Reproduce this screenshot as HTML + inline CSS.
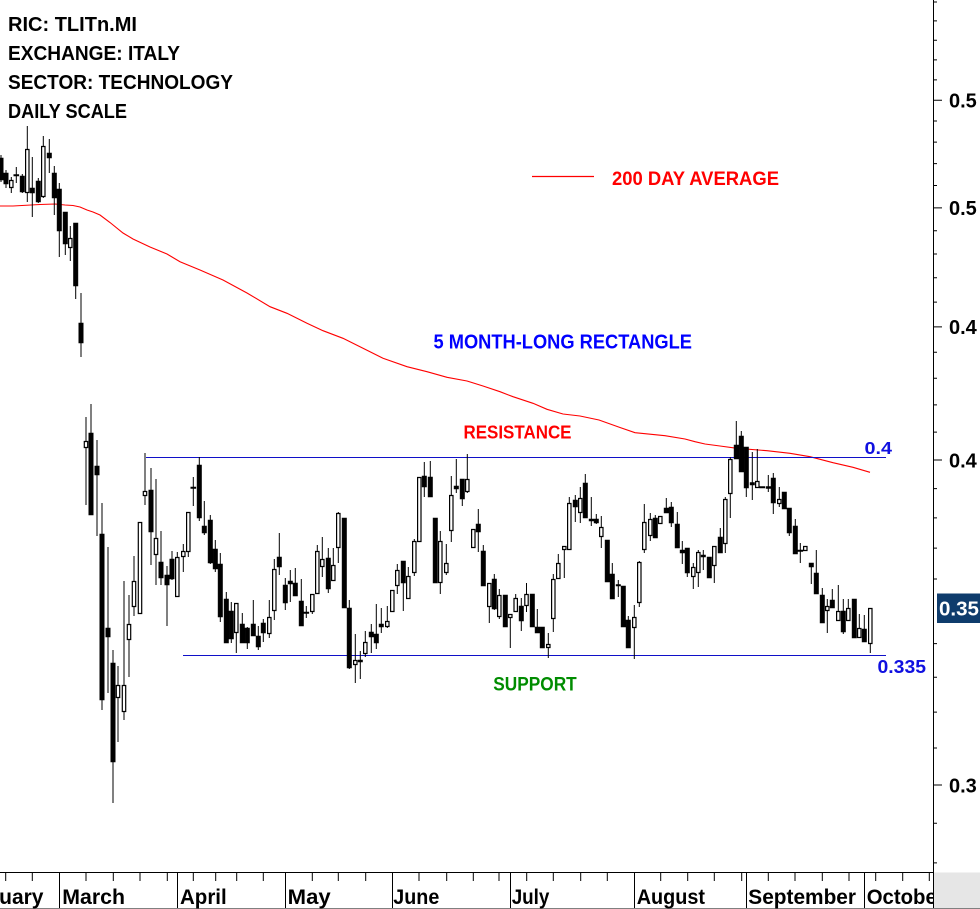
<!DOCTYPE html>
<html>
<head>
<meta charset="utf-8">
<style>
html,body{margin:0;padding:0;background:#fff;}
svg{display:block;}
text{font-family:"Liberation Sans",Arial,sans-serif;font-weight:bold;}
</style>
</head>
<body>
<svg width="980" height="909" viewBox="0 0 980 909" xmlns="http://www.w3.org/2000/svg">
<defs>
<clipPath id="plot"><rect x="0" y="0" width="933" height="872"/></clipPath>
<clipPath id="xl"><rect x="0" y="872" width="933" height="37"/></clipPath>
</defs>
<rect x="0" y="0" width="980" height="909" fill="#fff"/>

<g clip-path="url(#plot)">
<!-- 200 day average -->
<polyline fill="none" stroke="#ff0000" stroke-width="1.1" points="0,206 13,206 40,204.5 55,204 65,205 73,205.5 80,207 87,210 93,212 100,215 110,222.5 123,233 133,239 150,247 167,254 180,261.7 200,270 223,280 247,293 270,306.7 287,313.3 307,323.3 323,330.7 343,338.3 363,348.3 383,358.3 407,366.7 427,371.7 447,377.3 467,381 483,386 500,391.7 513,396.7 533,403.3 547,409.3 563,414 580,416 599,420 620,427.5 635,432.7 665,435.7 685,439 695,441.7 705,444 720,446 737,448.3 767,450.7 790,453.3 810,456.7 833,462.7 853,467.3 870,472.3"/>

<!-- resistance / support -->
<line x1="146" y1="457.5" x2="886" y2="457.5" stroke="#1010c8" stroke-width="1"/>
<line x1="183" y1="655.5" x2="886" y2="655.5" stroke="#1010c8" stroke-width="1"/>

<!-- wicks -->
<path fill="none" stroke="#000" stroke-width="1" d="M1 155V182M6 170V188M11.3 177V193M16.3 167V183M22.3 174V193M27.3 126V202M32.3 157V217M38.3 178V203M43.3 136V198M49.3 139V173M54.3 166V215M59.3 183V257M65.3 212V255M70.3 226V261M75.7 223V299M81 293V357M86 417V505M91 404V515M97 440V536M102 503V710M108 547V693M113 650V803M118 666V742M124 581V720M129 595V677M134 556V616M140 522V614M145 453V505M151 468V565M156 479V585M161 531V585M167 566V626M172 551V580M177.3 552V597M183.3 544V572M188.3 512V557M193.3 477V506M199.3 457V521M204.3 501V535M210.3 515V564M215.3 540V572M220.3 553V622M226.3 592V643M231.3 602V643M236.3 603V653M242.3 613V643M247.3 627V649M253.3 600V636M258.3 626V650M263.3 619V642M269.3 600V638M274.3 559V620M279.3 533V575M285.3 578V610M290.3 570V602M295.3 568V596M301.3 579V626M306.3 606V618M312.3 594V614M317.3 545V594M322.3 537V577M328.3 548V593M333.3 548V581M338.3 512V563M344.3 518V608M349.3 600V669M355.3 634V683M360.3 651V679M365.3 631V657M371.3 624V653M376.3 604V649M381.3 608V633M387.3 606V628M392.3 590V612M397.3 564V594M403.3 561V611M408.3 567V599M414.3 539V576M419.3 477V542M424.3 462V497M430.3 461V497M435.3 518V583M440.3 531V594M446.3 544V575M451.3 476V542M456.3 459V493M462.3 479V506M467.3 454V493M473.3 529V548M478.3 509V552M483.3 545V586M489.3 583V623M494.3 574V610M499.3 589V619M505.3 595V627M510.3 614V648M515.7 594V612M521.3 598V631M526.5 583V612M532.3 594V627M537.3 609V633M542.3 627V648M548.3 633V658M553.3 574V632M558.3 554V579M564.3 547V578M569.3 497V550M575.3 495V522M580.3 487V523M585.3 474V518M591.3 497V526M596.3 514V524M601.3 516V548M607.3 540V582M612.3 563V599M618.3 580V597M623.3 586V627M628.3 616V648M634.3 605V659M639.3 561V607M644.3 504V553M650.3 513V541M655.3 515V538M660.3 516V524M666.3 498V513M671.3 502V527M677.3 512V548M682.3 541V564M687.3 548V577M693.3 563V589M698.3 550V587M703.3 550V570M709.3 557V578M714.3 546V583M720.3 528V553M725.3 497V553M730.3 457V518M736.3 421V459M741.3 431V472M746.3 447V497M752.3 452V500M757.3 449V488M768.3 475V492M773.3 473V514M779.3 487V507M784.3 492V509M789.3 508V536M795.3 519V554M800.3 543V563M805.3 546V551M811.3 563V584M816.3 550V594M822.3 588V623M827.3 599V633M832.3 589V608M838.3 585V621M843.3 599V634M848.3 599V621M854.3 599V638M859.3 614V638M864.3 615V642M870.3 608V653"/>

<!-- filled (down) bodies -->
<path fill="#000" stroke="#000" stroke-width="0.6" d="M-1.2 158h4.4v22h-4.4zM3.8 173h4.4v11h-4.4zM13.8 174.5h5v1.5h-5zM20.1 176h4.4v16h-4.4zM30.1 188h4.4v5h-4.4zM36.1 181h4.4v21h-4.4zM47.1 153h4.4v5h-4.4zM52.1 173h4.4v25h-4.4zM57.1 189h4.4v42h-4.4zM63.1 212h4.4v32h-4.4zM73.5 223h4.4v63h-4.4zM78.8 323h4.4v20h-4.4zM88.8 433h4.4v82h-4.4zM94.8 466h4.4v9h-4.4zM99.8 534h4.4v166h-4.4zM105.8 628h4.4v9h-4.4zM110.8 663h4.4v99h-4.4zM148.8 490h4.4v42h-4.4zM158.8 562h4.4v16h-4.4zM164.8 575h4.4v10h-4.4zM169.8 559h4.4v20h-4.4zM190.8 487h5v1.5h-5zM197.1 465h4.4v53h-4.4zM202.1 526h4.4v7h-4.4zM208.1 520h4.4v43h-4.4zM213.1 549h4.4v20h-4.4zM218.1 564h4.4v53h-4.4zM224.1 599h4.4v44h-4.4zM229.1 611h4.4v28h-4.4zM240.1 624h4.4v19h-4.4zM245.1 628h4.4v15h-4.4zM251.1 624h4.4v12h-4.4zM256.1 636h4.4v11h-4.4zM261.1 623h4.4v10h-4.4zM277.1 557h4.4v10h-4.4zM283.1 585h4.4v18h-4.4zM288.1 581h4.4v3h-4.4zM293.1 583h4.4v13h-4.4zM299.1 601h4.4v25h-4.4zM303.8 612h5v1.5h-5zM326.1 558h4.4v31h-4.4zM342.1 518h4.4v90h-4.4zM347.1 608h4.4v60h-4.4zM358.1 660h4.4v2h-4.4zM369.1 632h4.4v5h-4.4zM374.1 634h4.4v9h-4.4zM379.1 624h4.4v3h-4.4zM401.1 561h4.4v22h-4.4zM422.1 476h4.4v11h-4.4zM428.1 477h4.4v20h-4.4zM433.1 518h4.4v65h-4.4zM454.1 486h4.4v3h-4.4zM460.1 479h4.4v20h-4.4zM476.1 524h4.4v8h-4.4zM481.1 551h4.4v35h-4.4zM492.1 579h4.4v30h-4.4zM503.1 595h4.4v32h-4.4zM519.1 606h4.4v15h-4.4zM530.1 594h4.4v33h-4.4zM535.1 627h4.4v6h-4.4zM540.1 627h4.4v21h-4.4zM573.1 500h4.4v7h-4.4zM583.1 483h4.4v35h-4.4zM589.1 519h4.4v2h-4.4zM594.1 519h4.4v4h-4.4zM605.1 540h4.4v42h-4.4zM610.1 574h4.4v25h-4.4zM616.1 584.5h4.4v1.5h-4.4zM621.1 586h4.4v41h-4.4zM626.1 620h4.4v28h-4.4zM653.1 518h4.4v20h-4.4zM664.1 508h4.4v5h-4.4zM669.1 507h4.4v16h-4.4zM675.1 524h4.4v24h-4.4zM680.1 550h4.4v3h-4.4zM685.1 548h4.4v25h-4.4zM701.1 555h4.4v2h-4.4zM707.1 557h4.4v21h-4.4zM718.1 537h4.4v16h-4.4zM734.1 445h4.4v14h-4.4zM739.1 436h4.4v36h-4.4zM744.1 447h4.4v41h-4.4zM750.1 482.5h4.4v2.5h-4.4zM759.8 486.5h5v1.5h-5zM766.1 486.5h4.4v2h-4.4zM771.1 478h4.4v25h-4.4zM782.1 492h4.4v17h-4.4zM787.1 508h4.4v25h-4.4zM793.1 526h4.4v28h-4.4zM797.8 550h5v1.5h-5zM809.1 563h4.4v4h-4.4zM814.1 573h4.4v21h-4.4zM820.1 595h4.4v28h-4.4zM830.1 600h4.4v8h-4.4zM841.1 611h4.4v21h-4.4zM852.1 599h4.4v39h-4.4zM862.1 629h4.4v13h-4.4z"/>

<!-- hollow (up) bodies -->
<path fill="#fff" stroke="#000" stroke-width="1.2" d="M9.6 180.5h3.4v7h-3.4zM25.6 149.5h3.4v43h-3.4zM41.6 146.5h3.4v50h-3.4zM68.6 238.5h3.4v9h-3.4zM84.3 441.5h3.4v6h-3.4zM116.3 685.5h3.4v12h-3.4zM122.3 685.5h3.4v26h-3.4zM127.3 624.5h3.4v15h-3.4zM132.3 581.5h3.4v25h-3.4zM138.3 522.5h3.4v91h-3.4zM143.3 491.5h3.4v4h-3.4zM154.3 538.5h3.4v16h-3.4zM175.6 557.5h3.4v39h-3.4zM181.6 551.5h3.4v5h-3.4zM186.6 512.5h3.4v39h-3.4zM234.6 603.5h3.4v29h-3.4zM267.6 617.5h3.4v16h-3.4zM272.6 569.5h3.4v41h-3.4zM310.6 594.5h3.4v17h-3.4zM315.6 551.5h3.4v42h-3.4zM320.6 559.5h3.4v7h-3.4zM331.6 565.5h3.4v15h-3.4zM336.6 513.5h3.4v34h-3.4zM353.6 660.5h3.4v4h-3.4zM363.6 642.5h3.4v11h-3.4zM385.6 621.5h3.4v5h-3.4zM390.6 590.5h3.4v21h-3.4zM395.6 570.5h3.4v15h-3.4zM406.6 576.5h3.4v22h-3.4zM412.6 541.5h3.4v31h-3.4zM417.6 477.5h3.4v64h-3.4zM438.6 541.5h3.4v41h-3.4zM444.6 563.5h3.4v9h-3.4zM449.6 495.5h3.4v35h-3.4zM465.6 479.5h3.4v12h-3.4zM471.6 529.5h3.4v18h-3.4zM487.6 583.5h3.4v23h-3.4zM497.6 595.5h3.4v21h-3.4zM508.6 614.5h3.4v3h-3.4zM514 598.5h3.4v13h-3.4zM524.8 594.5h3.4v11h-3.4zM546.6 644.5h3.4v3h-3.4zM551.6 579.5h3.4v39h-3.4zM556.6 563.5h3.4v15h-3.4zM562.6 546.5h3.4v3h-3.4zM567.6 503.5h3.4v46h-3.4zM578.6 498.5h3.4v14h-3.4zM599.6 527.5h3.4v9h-3.4zM632.6 617.5h3.4v10h-3.4zM637.6 562.5h3.4v40h-3.4zM642.6 522.5h3.4v27h-3.4zM648.6 519.5h3.4v16h-3.4zM658.6 516.5h3.4v7h-3.4zM691.6 567.5h3.4v9h-3.4zM696.6 552.5h3.4v20h-3.4zM712.6 546.5h3.4v19h-3.4zM723.6 499.5h3.4v44h-3.4zM728.6 459.5h3.4v34h-3.4zM755.6 481.5h3.4v6h-3.4zM777.6 499.5h3.4v4h-3.4zM803.6 546.5h3.4v4h-3.4zM825.6 606.5h3.4v4h-3.4zM836.6 611.5h3.4v9h-3.4zM846.6 608.5h3.4v12h-3.4zM857.6 628.5h3.4v9h-3.4zM868.6 608.5h3.4v35h-3.4z"/>
</g>

<!-- header text -->
<text x="8" y="31" font-size="20.5" fill="#000" textLength="129" lengthAdjust="spacingAndGlyphs">RIC: TLITn.MI</text>
<text x="8" y="60" font-size="20.5" fill="#000" textLength="172" lengthAdjust="spacingAndGlyphs">EXCHANGE: ITALY</text>
<text x="8" y="89" font-size="20.5" fill="#000" textLength="225" lengthAdjust="spacingAndGlyphs">SECTOR: TECHNOLOGY</text>
<text x="8" y="118" font-size="20.5" fill="#000" textLength="119" lengthAdjust="spacingAndGlyphs">DAILY SCALE</text>

<!-- legend -->
<line x1="532" y1="176.5" x2="594" y2="176.5" stroke="#ff0000" stroke-width="1.2"/>
<text x="612" y="185" font-size="19.5" fill="#ff0000" textLength="167" lengthAdjust="spacingAndGlyphs">200 DAY AVERAGE</text>

<!-- annotations -->
<text x="433.5" y="348.5" font-size="20" fill="#0000ff" textLength="258.5" lengthAdjust="spacingAndGlyphs">5 MONTH-LONG RECTANGLE</text>
<text x="463.5" y="438.5" font-size="18.8" fill="#ff0000" textLength="108" lengthAdjust="spacingAndGlyphs">RESISTANCE</text>
<text x="493.3" y="690.7" font-size="19.5" fill="#008c00" textLength="83.4" lengthAdjust="spacingAndGlyphs">SUPPORT</text>
<text x="864.5" y="454" font-size="17.5" fill="#1010e0" textLength="27.5" lengthAdjust="spacingAndGlyphs">0.4</text>
<text x="877.5" y="673" font-size="18" fill="#1010e0" textLength="48.5" lengthAdjust="spacingAndGlyphs">0.335</text>

<!-- right axis -->
<line x1="933.5" y1="0" x2="933.5" y2="909" stroke="#000" stroke-width="1"/>
<path fill="none" stroke="#000" stroke-width="1" d="M933 862.9h4M933 823.3h4M933 785h9M933 748h4M933 712.1h4M933 677.3h4M933 643.6h4M933 579h4M933 548.1h4M933 517.9h4M933 488.6h4M933 460h9M933 432.1h4M933 404.9h4M933 378.3h4M933 352.3h4M933 326.9h9M933 302.1h4M933 277.8h4M933 254h4M933 230.7h4M933 207.9h9M933 185.5h4M933 163.6h4M933 142.1h4M933 121h4M933 100.2h9M933 79.9h4M933 59.9h4M933 40.2h4M933 20.9h4M933 2h4"/>
<text x="949" y="107.5" font-size="20" fill="#000">0.5</text>
<text x="949" y="215.2" font-size="20" fill="#000">0.5</text>
<text x="949" y="334.2" font-size="20" fill="#000">0.4</text>
<text x="949" y="467.3" font-size="20" fill="#000">0.4</text>
<text x="949" y="792.3" font-size="20" fill="#000">0.3</text>
<rect x="937" y="593.5" width="43" height="29.5" fill="#0f3c6c"/>
<text x="939" y="615.5" font-size="20" fill="#fff" textLength="40" lengthAdjust="spacingAndGlyphs">0.35</text>

<!-- bottom axis -->
<rect x="934" y="872.5" width="46" height="36.5" fill="#e6e6e6"/>
<line x1="0" y1="872.5" x2="934" y2="872.5" stroke="#000" stroke-width="1"/>
<line x1="0" y1="908.5" x2="980" y2="908.5" stroke="#808080" stroke-width="1"/>
<path fill="none" stroke="#000" stroke-width="1" d="M59.5 872V908M177.5 872V908M285.5 872V908M392.5 872V908M510.5 872V908M634.5 872V908M746.5 872V908M864.5 872V908"/>
<path fill="none" stroke="#000" stroke-width="1" d="M5.7 872V881M32.3 872V881M86 872V881M113.3 872V881M140 872V881M167.3 872V881M193.3 872V881M215.7 872V881M236.7 872V881M263.3 872V881M312.3 872V881M338.3 872V881M365.7 872V881M419 872V881M446.7 872V881M473.3 872V881M499 872V881M526.7 872V881M553.3 872V881M580.7 872V881M607.3 872V881M660.7 872V881M687.7 872V881M714.3 872V881M741.7 872V881M768.3 872V881M795 872V881M822.3 872V881M849 872V881M875.7 872V881M902.7 872V881M929.3 872V881"/>
<g clip-path="url(#xl)">
<text x="43.5" y="904" font-size="21" fill="#000" text-anchor="end">February</text>
<text x="62.3" y="904" font-size="21" fill="#000" textLength="62.7" lengthAdjust="spacingAndGlyphs">March</text>
<text x="180" y="904" font-size="21" fill="#000" textLength="46.7" lengthAdjust="spacingAndGlyphs">April</text>
<text x="287.7" y="904" font-size="21" fill="#000" textLength="43" lengthAdjust="spacingAndGlyphs">May</text>
<text x="393.3" y="904" font-size="21" fill="#000" textLength="46" lengthAdjust="spacingAndGlyphs">June</text>
<text x="511.7" y="904" font-size="21" fill="#000" textLength="37.7" lengthAdjust="spacingAndGlyphs">July</text>
<text x="636.7" y="904" font-size="21" fill="#000" textLength="68.3" lengthAdjust="spacingAndGlyphs">August</text>
<text x="748.3" y="904" font-size="21" fill="#000" textLength="107.7" lengthAdjust="spacingAndGlyphs">September</text>
<text x="866.7" y="904" font-size="21" fill="#000" textLength="78" lengthAdjust="spacingAndGlyphs">October</text>
</g>
</svg>
</body>
</html>
